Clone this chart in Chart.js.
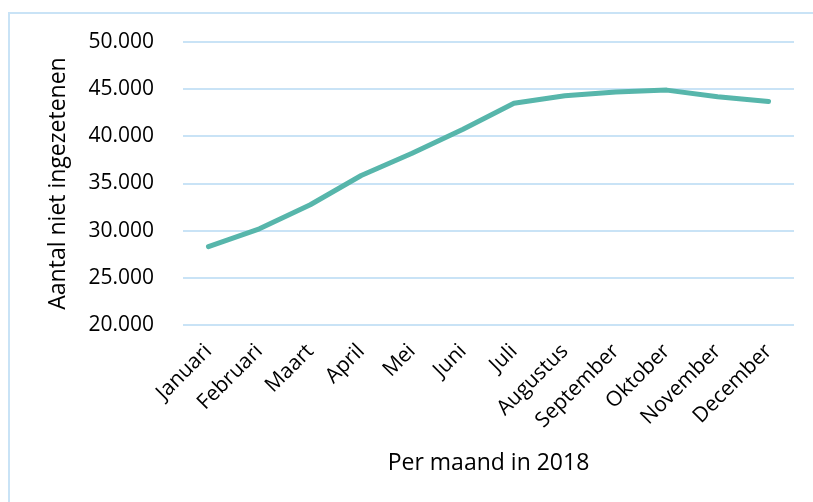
<!DOCTYPE html>
<html>
<head>
<meta charset="utf-8">
<script src="https://cdn.jsdelivr.net/npm/chart.js@4"></script>
<style>
  html, body { margin: 0; padding: 0; background: #fff; overflow: hidden; }
  #wrap { position: relative; width: 813px; height: 502px; }
  #frame {
    position: absolute; left: 8px; top: 12px; width: 900px; height: 600px;
    border: 2px solid #c9e3f6; box-sizing: border-box;
  }
  canvas { position: absolute; left: 0; top: 0; }
</style>
</head>
<body>
<div id="wrap">
  <div id="frame"></div>
  <canvas id="chart" width="813" height="502"></canvas>
</div>
<script>
  // ---------- data ----------
  const months = ['Januari', 'Februari', 'Maart', 'April', 'Mei', 'Juni',
    'Juli', 'Augustus', 'September', 'Oktober', 'November', 'December'];
  const nietIngezetenen = [28300, 30200, 32750, 35850, 38200, 40750,
    43500, 44300, 44700, 44900, 44200, 43700];
  const yMin = 20000;
  const yMax = 50000;
  const yStep = 5000;

  const FONT = '"Open Sans", sans-serif';
  const GRID = '#c9e3f6';

  // 50000 -> "50.000"
  function fmt(v) {
    return String(v).replace(/\B(?=(\d{3})+(?!\d))/g, '.');
  }

  new Chart(document.getElementById('chart'), {
    type: 'line',
    data: {
      labels: months,
      datasets: [{
        data: nietIngezetenen,
        borderColor: '#57b6ab',
        borderWidth: 5,
        borderCapStyle: 'round',
        borderJoinStyle: 'round',
        pointRadius: 0,
        tension: 0,
        fill: false,
      }],
    },
    options: {
      responsive: false,
      animation: false,
      layout: { padding: { left: 43, right: 19, top: 42, bottom: 24 } },
      plugins: { legend: { display: false }, tooltip: { enabled: false } },
      scales: {
        x: {
          offset: true,
          grid: { display: false, drawTicks: false },
          border: { display: false },
          ticks: {
            color: '#000',
            font: { family: FONT, size: 21 },
            minRotation: 45,
            maxRotation: 45,
            padding: 14,
            autoSkip: false,
          },
          title: {
            display: true,
            text: 'Per maand in 2018',
            color: '#000',
            font: { family: FONT, size: 23 },
            padding: { top: 0, bottom: 1 },
          },
          afterFit: (s) => { s.height = 153; },
        },
        y: {
          min: yMin,
          max: yMax,
          grid: { color: GRID, lineWidth: 2, drawTicks: false },
          border: { display: false },
          ticks: {
            stepSize: yStep,
            color: '#000',
            font: { family: FONT, size: 21 },
            padding: 29,
            callback: (v) => fmt(v),
          },
          title: {
            display: true,
            text: 'Aantal niet ingezetenen',
            color: '#000',
            font: { family: FONT, size: 23 },
            padding: { top: 2, bottom: 0 },
          },
          afterFit: (s) => { s.width = 140; },
        },
      },
    },
  });
</script>
</body>
</html>
